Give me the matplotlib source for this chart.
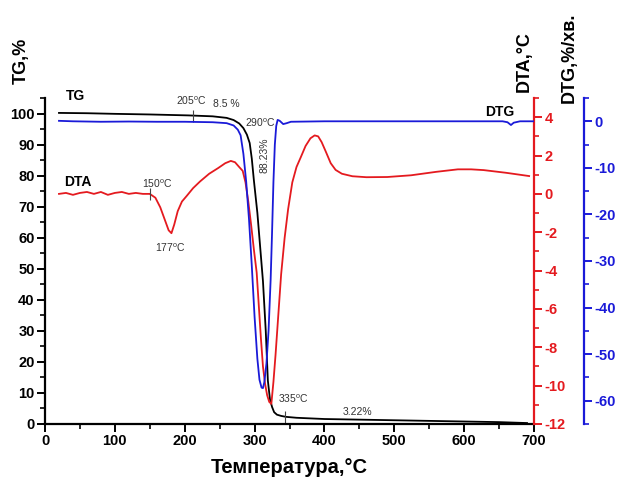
import numpy as np
import matplotlib
matplotlib.use('Agg')
import matplotlib.pyplot as plt
from matplotlib.ticker import MultipleLocator

plt.rcParams['font.family'] = ['Liberation Sans', 'DejaVu Sans']
plt.rcParams['axes.unicode_minus'] = False

# TG curve, %
tg_t = [20, 60, 100, 150, 205, 240, 260, 270, 278, 284, 289, 293, 296, 299, 304,
        308, 312, 316, 319, 322, 325, 328, 332, 338, 345, 360, 400, 450, 500,
        550, 600, 650, 690]
tg_v = [100.2, 100.1, 99.9, 99.7, 99.4, 99.1, 98.6, 97.9, 96.8, 95.3, 93.2, 90.5,
        85.5, 78.5, 68, 57, 46, 30, 14, 8, 5.5, 3.8, 3.0, 2.6, 2.3, 2.0, 1.6,
        1.4, 1.2, 1.0, 0.8, 0.6, 0.3]

# DTA curve, degC
dta_t = [20, 30, 40, 50, 60, 70, 80, 90, 100, 110, 120, 130, 140, 150, 158, 165,
         172, 177, 181, 185, 190, 196, 203, 212, 222, 235, 248, 258, 266, 272,
         278, 283, 287, 291, 295, 299, 303, 306, 309, 312, 315, 318, 321, 324,
         327, 330, 334, 338, 343, 348, 354, 360, 366, 373, 380, 386, 391, 396,
         402, 409, 416, 425, 440, 460, 490, 524, 560, 591, 610, 628, 660, 693]
dta_v = [0.0, 0.05, -0.05, 0.05, 0.1, 0.0, 0.1, -0.05, 0.05, 0.1, 0.0, 0.05, 0.0,
         0.0, -0.2, -0.7, -1.4, -1.9, -2.05, -1.6, -0.9, -0.4, -0.1, 0.3, 0.65,
         1.05, 1.35, 1.6, 1.72, 1.65, 1.4, 1.2, 0.6, -0.4, -1.6, -2.9, -4.1, -5.8,
         -7.5, -9.0, -9.9, -10.5, -10.85, -10.95, -9.8, -8.4, -6.3, -4.2, -2.3,
         -0.8, 0.6, 1.4, 1.9, 2.5, 2.9, 3.05, 3.0, 2.7, 2.2, 1.6, 1.25, 1.05, 0.92,
         0.87, 0.88, 0.97, 1.15, 1.28, 1.28, 1.24, 1.1, 0.93]

# DTG curve, %/min
dtg_t = [20, 40, 80, 120, 160, 200, 240, 260, 270, 276, 280, 284, 288, 292, 296,
         300, 304, 307, 310, 312, 314, 317, 320, 323, 325, 327, 329, 331, 333,
         336, 341, 346, 352, 400, 500, 600, 655, 662, 667, 671, 680, 700]
dtg_v = [0.1, 0.0, -0.1, -0.05, -0.1, -0.1, -0.2, -0.4, -0.9, -1.8, -3.0, -7,
         -13, -21, -31, -42, -51, -55.5, -57.2, -57.3, -56, -52, -45, -34, -24,
         -13, -5, -1, 0.3, 0.1, -0.6, -0.4, -0.1, 0, 0, 0, 0, -0.2, -0.8, -0.3,
         0, 0]

# marked temperatures
tg_marks = [212, 343]
dta_marks = [151]

red = '#e41a1f'
blue = '#1a1ad8'

fig = plt.figure(figsize=(6.19, 4.84), dpi=100)
ax = fig.add_axes([0.0727, 0.124, 0.79, 0.6735])
ax2 = ax.twinx()
ax3 = ax.twinx()

ax.plot(tg_t, tg_v, color='black', lw=1.3)
ax2.plot(dta_t, dta_v, color=red, lw=1.3)
ax3.plot(dtg_t, dtg_v, color=blue, lw=1.3)

# small vertical marks on curves
ax.plot(tg_marks, np.interp(tg_marks, tg_t, tg_v), ls='none', marker='|',
        ms=8, mew=0.8, color='#444444')
ax2.plot(dta_marks, np.interp(dta_marks, dta_t, dta_v), ls='none', marker='|',
         ms=8, mew=0.8, color='#444444')

ax.set_xlim(0, 700)
ax.set_ylim(0, 105)
ax2.set_ylim(-12, 5)
ax3.set_ylim(-65, 5)

for a in (ax, ax2, ax3):
    a.spines['top'].set_visible(False)
ax.spines['right'].set_visible(False)
for s in ('left', 'bottom'):
    ax2.spines[s].set_visible(False)
    ax3.spines[s].set_visible(False)
    ax.spines[s].set_linewidth(1.6)
ax2.spines['right'].set_color(red)
ax2.spines['right'].set_linewidth(1.6)
ax3.spines['right'].set_position(('axes', 1.102))
ax3.spines['right'].set_color(blue)
ax3.spines['right'].set_linewidth(1.6)

ax.xaxis.set_major_locator(MultipleLocator(100))
ax.xaxis.set_minor_locator(MultipleLocator(50))
ax.yaxis.set_major_locator(MultipleLocator(10))
ax.yaxis.set_minor_locator(MultipleLocator(5))
ax2.yaxis.set_major_locator(MultipleLocator(2))
ax2.yaxis.set_minor_locator(MultipleLocator(1))
ax3.yaxis.set_major_locator(MultipleLocator(10))
ax3.yaxis.set_minor_locator(MultipleLocator(5))

ax.tick_params(which='major', length=5.5, width=1.4, labelsize=10.5, pad=2)
ax.tick_params(which='minor', length=3.5, width=1.2)
ax2.tick_params(which='major', length=5.5, width=1.4, colors=red, labelsize=10.5, pad=2)
ax2.tick_params(which='minor', length=3.5, width=1.2, colors=red)
ax3.tick_params(which='major', length=5.5, width=1.4, colors=blue, labelsize=10.5, pad=2)
ax3.tick_params(which='minor', length=3.5, width=1.2, colors=blue)
for a in (ax, ax2, ax3):
    for lab in a.get_xticklabels() + a.get_yticklabels():
        lab.set_fontweight('bold')

# axis titles
fig.text(0.034, 0.874, 'TG,%', rotation=90, ha='center', va='center',
         fontsize=13, fontweight='bold')
fig.text(0.847, 0.872, 'DTA,°C', rotation=90, ha='center', va='center',
         fontsize=13, fontweight='bold')
fig.text(0.919, 0.880, 'DTG,%/хв.', rotation=90, ha='center', va='center',
         fontsize=13, fontweight='bold')
ax.set_xlabel('Температура,°C', fontsize=14.5, fontweight='bold', labelpad=7)

# curve names
ax.text(44, 105.5, 'TG', fontsize=10, fontweight='bold', ha='center', va='center')
ax.text(47, 78, 'DTA', fontsize=10, fontweight='bold', ha='center', va='center')
ax.text(651, 100.6, 'DTG', fontsize=10, fontweight='bold', ha='center', va='center')

# annotations
ann = dict(fontsize=7.5, color='#333333', ha='center', va='center')
ax.text(210, 104.2, '205$^\\mathregular{o}$C', **ann)
ax.text(259, 103, '8.5 %', **ann)
ax.text(308, 96.9, '290$^\\mathregular{o}$C', **ann)
ax.text(314, 86.5, '88.23%', rotation=90, **ann)
ax.text(161, 77.5, '150$^\\mathregular{o}$C', **ann)
ax.text(179, 56.9, '177$^\\mathregular{o}$C', **ann)
ax.text(356, 8.2, '335$^\\mathregular{o}$C', **ann)
ax.text(447, 3.7, '3.22%', **ann)

fig.savefig('out.png', dpi=100)
